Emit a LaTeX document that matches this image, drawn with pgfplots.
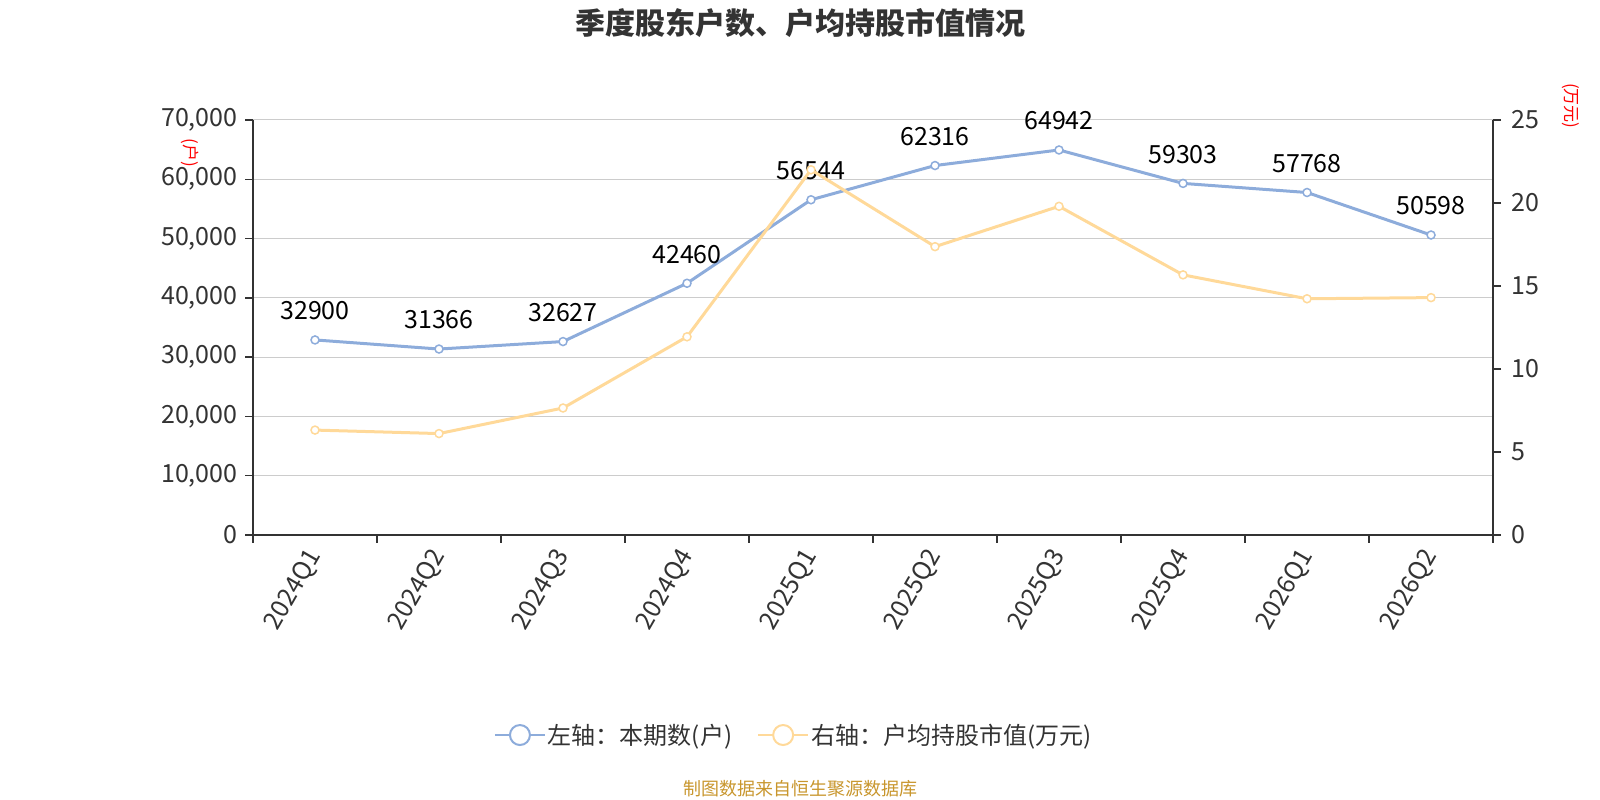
\documentclass[border=0pt]{standalone}
\usepackage{pgfplots}
\pgfplotsset{compat=1.18}
\usepackage{fontspec}
\setmainfont{Noto Sans CJK SC}
\definecolor{blueL}{RGB}{141,172,219}
\definecolor{yel}{RGB}{255,217,153}
\definecolor{axc}{RGB}{51,51,51}
\definecolor{gridc}{RGB}{204,204,204}
\definecolor{foot}{RGB}{200,150,45}
\begin{document}
\begin{tikzpicture}[x=1bp,y=1bp]
\path[use as bounding box] (0,0) rectangle (1600,800);
\node[font=\fontsize{30bp}{34bp}\selectfont\bfseries, text=axc] at (800,777) {季度股东户数、户均持股市值情况};
\node[font=\fontsize{17bp}{20bp}\selectfont, text=red, rotate=-90] at (190,647) {(户)};
\node[font=\fontsize{17bp}{20bp}\selectfont, text=red, rotate=-90] at (1571,694) {(万元)};
\node[font=\fontsize{18bp}{22bp}\selectfont, text=foot] at (800,11) {制图数据来自恒生聚源数据库};

\pgfplotsset{
  common/.style={
    at={(253bp,265bp)}, anchor=south west,
    scale only axis, width=1240bp, height=415bp,
    xmin=-0.5, xmax=9.5,
    tick align=outside,
    major tick length=8bp, minor tick length=8bp,
    axis line style={axc, line width=1.5bp},
    tick style={axc, line width=1.5bp},
    ticklabel style={font=\fontsize{25bp}{29bp}\selectfont, text=axc},
    /pgf/number format/assume math mode=true,
    /pgf/number format/1000 sep={,},
    scaled y ticks=false,
  },
}

\begin{axis}[common,
  ymin=0, ymax=70000,
  ytick={0,10000,...,70000},
  yticklabel style={xshift=-4bp},
  xtick={0,...,9},
  xticklabels={2024Q1,2024Q2,2024Q3,2024Q4,2025Q1,2025Q2,2025Q3,2025Q4,2026Q1,2026Q2},
  minor xtick={-0.5,0.5,...,9.5},
  major x tick style={draw=none},
  xticklabel style={rotate=60, anchor=east, xshift=-4bp, yshift=-5bp},
  axis x line*=bottom, axis y line*=left,
  ymajorgrids, grid style={gridc, line width=1bp},
  nodes near coords,
  point meta=explicit symbolic,
  every node near coord/.style={font=\fontsize{25bp}{29bp}\selectfont, text=black, anchor=center, yshift=29bp},
]
\addplot[blueL, line width=3bp, mark=*, mark size=4bp, mark options={fill=white, line width=1.5bp}]
coordinates {
(0,32900) [32900]
(1,31366) [31366]
(2,32627) [32627]
(3,42460) [42460]
(4,56544) [56544]
(5,62316) [62316]
(6,64942) [64942]
(7,59303) [59303]
(8,57768) [57768]
(9,50598) [50598]
};
\end{axis}

\begin{axis}[common,
  ymin=0, ymax=25,
  ytick={0,5,...,25},
  yticklabel style={xshift=7bp},
  axis y line*=right, axis x line=none,
  legend columns=2,
  legend style={at={(0.436,-0.482)}, anchor=center, draw=none, fill=none,
    font=\fontsize{24bp}{28bp}\selectfont, text=axc,
    /tikz/every even column/.append style={column sep=23bp}},
  legend cell align=left,
  legend image code/.code={
    \draw[#1, mark=none, line width=2bp] (0bp,0bp) -- (50bp,0bp);
    \draw[#1, mark=none, fill=white, line width=2bp] (25bp,0bp) circle (10bp);
  },
]
\addlegendimage{blueL}
\addlegendentry{左轴：本期数(户)}
\addplot[yel, line width=3bp, mark=*, mark size=4bp, mark options={fill=white, line width=1.5bp}]
coordinates {
(0,6.32)
(1,6.11)
(2,7.65)
(3,11.94)
(4,22.0)
(5,17.37)
(6,19.8)
(7,15.67)
(8,14.23)
(9,14.3)
};
\addlegendentry{右轴：户均持股市值(万元)}
\end{axis}
\end{tikzpicture}
\end{document}
